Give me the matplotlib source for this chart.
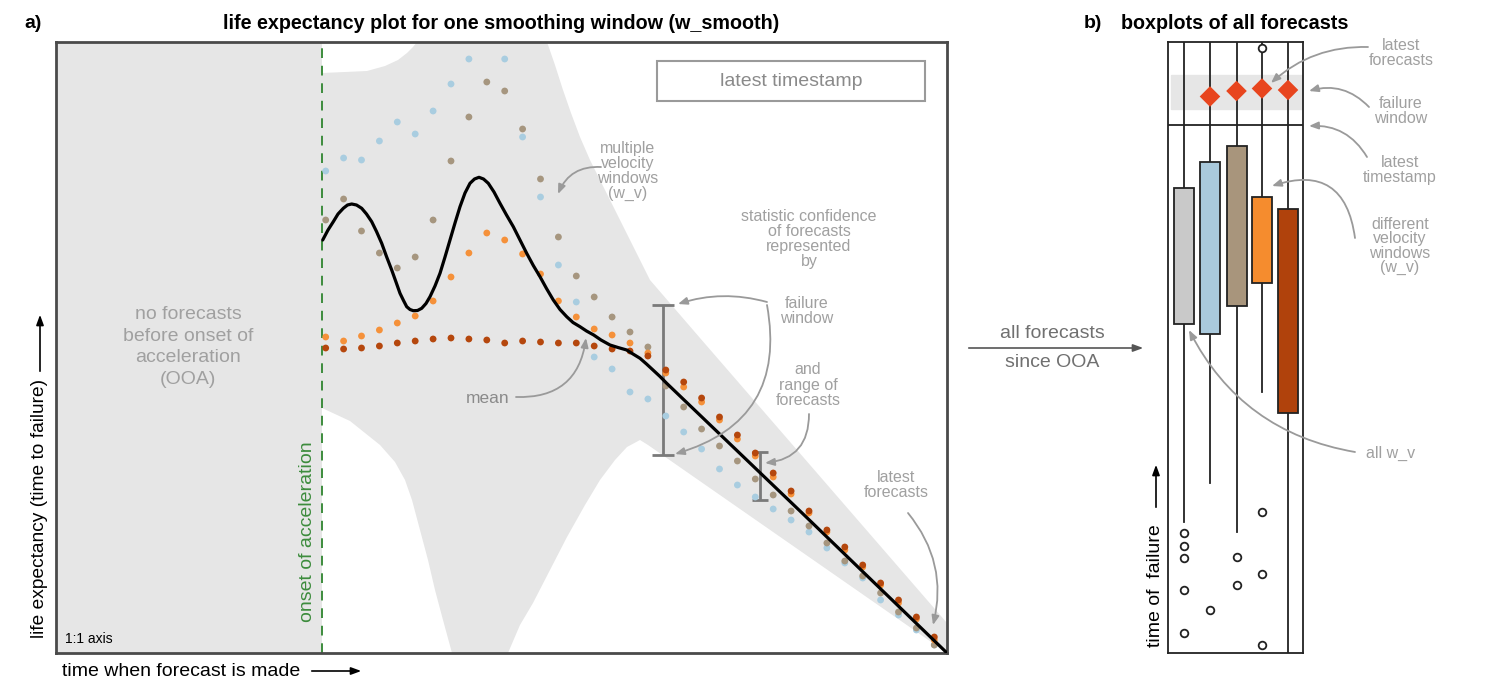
import numpy as np
import matplotlib.pyplot as plt
from matplotlib.patches import Polygon, Rectangle

plt.rcParams['font.family'] = ['Liberation Sans', 'DejaVu Sans']

# ---- panel a data (drawing units: x = time when forecast is made, y = life expectancy, axis inverted) ----
n_forecasts = 35
t_forecast = 325.7 + 17.9 * np.arange(n_forecasts)

nan = np.nan
wv_blue = [171, 158, 160, 141, 122, 134, 111, 84, 59, nan, 59, 137, 197, 265, 302, 357, 369, 392,
           399, 416, 432, 449, 469, 485, 497, 509, 520, 532, 548, 563, 578, 600, 615, 630, 645]
wv_taupe = [220, 199, 231, 253, 268, 257, 220, 161, 117, 82, 91, 129, 179, 237, 276, 297, 317, 332,
            347, 386, 407, 429, 446, 461, 479, 495, 511, 526, 543, 561, 576, 593, 612, 628, 645]
wv_orange = [337, 341, 336, 330, 323, 316, 301, 277, 253, 233, 240, 254, 274, 301, 317, 329, 335, 343,
             353, 373, 387, 402, 420, 439, 456, 477, 494, 513, 532, 550, 567, 585, 603, 619, 640]
wv_dark = [348, 349, 348, 346, 343, 341, 339, 338, 339, 340, 343, 341, 342, 343, 343, 346, 349, 351,
           356, 370, 382, 398, 417, 435, 453, 473, 491, 511, 530, 547, 565, 583, 600, 617, 637]

# mean of the forecasts
mean_t = [322.7, 328, 333.3, 338, 343.3, 347.5, 351.7, 356.5, 361.7, 366.5, 371.7, 376.5, 381.7, 386.5,
          391.7, 396, 400, 403.5, 406.7, 410, 413.3, 417.5, 421.7, 426, 430, 435, 440, 445, 450, 455,
          460, 465, 470, 474.5, 479, 483.5, 488.3, 494, 500, 506.5, 513.3, 520, 526.7, 533.3, 540, 546.5,
          553.3, 560, 566.7, 573, 580, 586.5, 593.7, 601, 610, 618, 626.7, 633, 640, 646.5, 653, 660,
          666.7, 800, 947]
mean_y = [240, 230, 221.7, 214, 208.3, 205, 204, 205, 208.3, 214, 221.7, 231.5, 243.3, 256.5,
          270, 282, 293.3, 300.5, 306.7, 309.5, 310.7, 310.5, 308.3, 303.5, 296.7, 286, 273.3, 257, 240, 223,
          206.7, 193, 183.3, 179, 177.3, 179, 183.3, 192, 203.3, 215, 226.7, 240, 253.3, 265.5, 276.7, 288.5,
          300, 309.5, 316.7, 322.5, 326.7, 331, 335, 340, 345, 347.5, 350, 354, 358.3, 364, 370, 376.5,
          383.3, 511, 653]

# regions outside the confidence envelope (white)
out_top_left = [(322, 42), (322, 73), (345, 72), (367, 71), (385, 66), (398, 60), (407, 53), (413, 47), (417, 42)]
out_top_right = [(547, 42), (555, 65), (563, 90), (571, 113), (580, 137), (590, 160), (600, 180),
                 (625, 230), (650, 280), (700, 338), (947, 623), (947, 42)]
out_bottom_left = [(322, 653), (322, 408), (350, 421), (380, 445), (395, 462), (405, 480), (412, 500),
                   (420, 530), (428, 560), (435, 590), (443, 620), (452, 653)]
out_bottom_right = [(508, 653), (520, 625), (533, 603), (550, 570), (567, 537), (585, 505), (600, 480),
                    (615, 460), (627, 447), (640, 440), (648, 445), (947, 653)]

onset_t = 322
# failure window / range of forecasts bars: (t, low, high)
fw_bar = (663, 305, 455)
range_bar = (760, 452, 500)

# ---- panel b data (time of failure, axis inverted) ----
box_names = ['all w_v', 'w_v 1', 'w_v 2', 'w_v 3', 'w_v 4']
box_pos = [1184, 1210, 1236.5, 1262, 1288]
box_q1 = [188, 162, 146, 197, 209]
box_med = [267, 273, 255, 249, 267]
box_q3 = [324, 334, 306, 283, 413]
box_lo = [522, 483, 532, 392, 670]
box_hi = [20, 20, 20, 20, 20]
box_fliers = [[533, 546, 558, 590, 633], [610], [557, 585], [48, 512, 574, 645], []]
box_colors = ['#c9c9c9', '#a9c9dc', '#a8957c', '#f58c2e', '#b0420c']
latest_pos = [1210, 1236.5, 1262, 1288]
latest_val = [96.5, 91, 88.5, 90]
fail_window = (75, 109)
latest_timestamp = 125

blue, taupe, orange, dark = '#a9cde0', '#a6967f', '#f5913a', '#b5470d'
grey_txt = '#a0a0a0'
arrow_c = '#9a9a9a'

fig = plt.figure(figsize=(14.99, 6.91), dpi=100)
W, H = 1499, 691

# ---------------- panel a ----------------
ax = fig.add_axes([56 / W, (H - 653) / H, (947 - 56) / W, (653 - 42) / H])
ax.set_xlim(56, 947)
ax.set_ylim(653, 42)
ax.set_facecolor('#e6e6e6')
for poly in [out_top_left, out_top_right, out_bottom_left, out_bottom_right]:
    ax.add_patch(Polygon(poly, closed=True, facecolor='white', edgecolor='none', zorder=1))
ax.axvline(onset_t, color='#3d8c3d', lw=1.4, ls=(0, (5, 4)), zorder=2)

ax.errorbar([fw_bar[0]], [(fw_bar[1] + fw_bar[2]) / 2], yerr=[(fw_bar[2] - fw_bar[1]) / 2],
            fmt='none', ecolor='#7a7a7a', elinewidth=2, capsize=8, capthick=2, zorder=3)
ax.errorbar([range_bar[0]], [(range_bar[1] + range_bar[2]) / 2], yerr=[(range_bar[2] - range_bar[1]) / 2],
            fmt='none', ecolor='#7a7a7a', elinewidth=2, capsize=6, capthick=2, zorder=3)

for vals, c in [(wv_blue, blue), (wv_taupe, taupe), (wv_orange, orange), (wv_dark, dark)]:
    ax.scatter(t_forecast, vals, s=24, color=c, edgecolors='none', zorder=4)
ax.plot(mean_t, mean_y, color='black', lw=2.3, zorder=5, solid_capstyle='round', solid_joinstyle='round')

ax.set_xticks([])
ax.set_yticks([])
for s in ax.spines.values():
    s.set_linewidth(2)
    s.set_color('#4a4a4a')

# ---------------- panel b ----------------
bx = fig.add_axes([1168 / W, (H - 653) / H, (1303 - 1168) / W, (653 - 42) / H])
bx.set_xlim(1168, 1303)
bx.set_ylim(653, 42)
bx.axhspan(fail_window[0], fail_window[1], xmin=0.02, xmax=1, color='#e6e6e6', zorder=0)
bx.axhline(latest_timestamp, color='#222222', lw=1.3, zorder=1)
stats = []
for i in range(len(box_pos)):
    stats.append(dict(label=box_names[i], med=box_med[i], q1=box_q1[i], q3=box_q3[i],
                      whislo=box_lo[i], whishi=box_hi[i], fliers=box_fliers[i]))
bp = bx.bxp(stats, positions=box_pos, widths=20, patch_artist=True, showcaps=False,
            boxprops=dict(edgecolor='#222222', linewidth=1.3),
            whiskerprops=dict(color='#222222', linewidth=1.3),
            medianprops=dict(color='#222222', linewidth=1.3),
            flierprops=dict(marker='o', markerfacecolor='white', markeredgecolor='#222222',
                            markersize=5.5, markeredgewidth=1.3))
for patch, c in zip(bp['boxes'], box_colors):
    patch.set_facecolor(c)
    patch.set_zorder(3)
for w in bp['whiskers']:
    w.set_zorder(2)
bx.scatter(latest_pos, latest_val, marker='D', s=110, color='#e8451e', edgecolors='none', zorder=4)
bx.set_xticks([])
bx.set_yticks([])
for s in bx.spines.values():
    s.set_linewidth(1.3)
    s.set_color('#222222')

# ---------------- overlay for text and arrows ----------------
ov = fig.add_axes([0, 0, 1, 1], zorder=10)
ov.set_xlim(0, W)
ov.set_ylim(H, 0)
ov.axis('off')
ov.patch.set_alpha(0)

ov.text(24, 23, 'a)', fontsize=14, fontweight='bold', va='center')
ov.text(501, 23, 'life expectancy plot for one smoothing window (w_smooth)', fontsize=14.2,
        fontweight='bold', ha='center', va='center')
ov.text(1084, 23, 'b)', fontsize=14, fontweight='bold', va='center')
ov.text(1235, 23, 'boxplots of all forecasts', fontsize=14.2, fontweight='bold', ha='center', va='center')

# axis labels
ov.text(40, 638, 'life expectancy (time to failure)', rotation=90, fontsize=13.8, ha='center', va='bottom')
ov.annotate('', xy=(40, 312), xytext=(40, 374),
            arrowprops=dict(arrowstyle='-|>,head_length=0.6,head_width=0.22', color='black', lw=1.2))
ov.text(62, 671, 'time when forecast is made', fontsize=14, ha='left', va='center')
ov.annotate('', xy=(364, 671), xytext=(309, 671),
            arrowprops=dict(arrowstyle='-|>,head_length=0.6,head_width=0.22', color='black', lw=1.2))
ov.text(1156, 647, 'time of  failure', rotation=90, fontsize=14, ha='center', va='bottom')
ov.annotate('', xy=(1156, 462), xytext=(1156, 510),
            arrowprops=dict(arrowstyle='-|>,head_length=0.6,head_width=0.22', color='black', lw=1.2))
ov.text(65, 639, '1:1 axis', fontsize=10, ha='left', va='center')

# panel a annotations
ov.text(188, 347, 'no forecasts\nbefore onset of\nacceleration\n(OOA)', fontsize=14, color=grey_txt,
        ha='center', va='center', linespacing=1.35)
ov.text(308, 532, 'onset of acceleration', rotation=90, fontsize=14, color='#3d8c3d',
        ha='center', va='center')
ov.add_patch(Rectangle((657, 61), 268, 40, fill=False, edgecolor='#9a9a9a', lw=1.5))
ov.text(791, 81, 'latest timestamp', fontsize=14, color='#8a8a8a', ha='center', va='center')
ml = dict(fontsize=11.5, color=grey_txt, ha='center', va='center', linespacing=1.02)
ov.text(628, 171, 'multiple\nvelocity\nwindows\n(w_v)', **ml)
ov.text(809, 239, 'statistic confidence\nof forecasts\nrepresented\nby', **ml)
ov.text(807, 311, 'failure\nwindow', **ml)
ov.text(808, 385, 'and\nrange of\nforecasts', **ml)
ov.text(896, 485, 'latest\nforecasts', **ml)
ov.text(488, 398, 'mean', fontsize=12.5, color='#8a8a8a', ha='center', va='center')

ap = dict(arrowstyle='-|>,head_length=0.55,head_width=0.22', color=arrow_c, lw=1.3, shrinkA=0, shrinkB=0)


def arr(xy, xytext, rad):
    ov.annotate('', xy=xy, xytext=xytext,
                arrowprops=dict(ap, connectionstyle='arc3,rad=%s' % rad))


arr((558, 194), (601, 167), 0.35)
arr((586, 338), (516, 397), 0.45)
arr((678, 304), (767, 302), 0.15)
arr((675, 454), (767, 305), -0.45)
arr((765, 463), (809, 414), -0.45)
arr((933, 625), (908, 513), -0.25)

# panel b annotations
mb = dict(fontsize=11.5, color=grey_txt, ha='center', va='center', linespacing=0.93)
ov.text(1401, 53, 'latest\nforecasts', **mb)
ov.text(1401, 111, 'failure\nwindow', **mb)
ov.text(1400, 170, 'latest\ntimestamp', **mb)
ov.text(1400, 246, 'different\nvelocity\nwindows\n(w_v)', **mb)
ov.text(1391, 453, 'all w_v', fontsize=11.5, color=grey_txt, ha='center', va='center')
arr((1271, 83), (1368, 47), 0.2)
arr((1309, 91), (1369, 107), 0.3)
arr((1309, 126), (1367, 157), 0.3)
arr((1272, 186), (1355, 238), 0.6)
arr((1189, 330), (1355, 452), -0.25)

ov.annotate('', xy=(1146, 348), xytext=(966, 348),
            arrowprops=dict(arrowstyle='-|>,head_length=0.6,head_width=0.22', color='#555555', lw=1.2))
ov.text(1052, 333, 'all forecasts', fontsize=14, color='#707070', ha='center', va='center')
ov.text(1052, 362, 'since OOA', fontsize=14, color='#707070', ha='center', va='center')

fig.savefig('out.png', dpi=100)
